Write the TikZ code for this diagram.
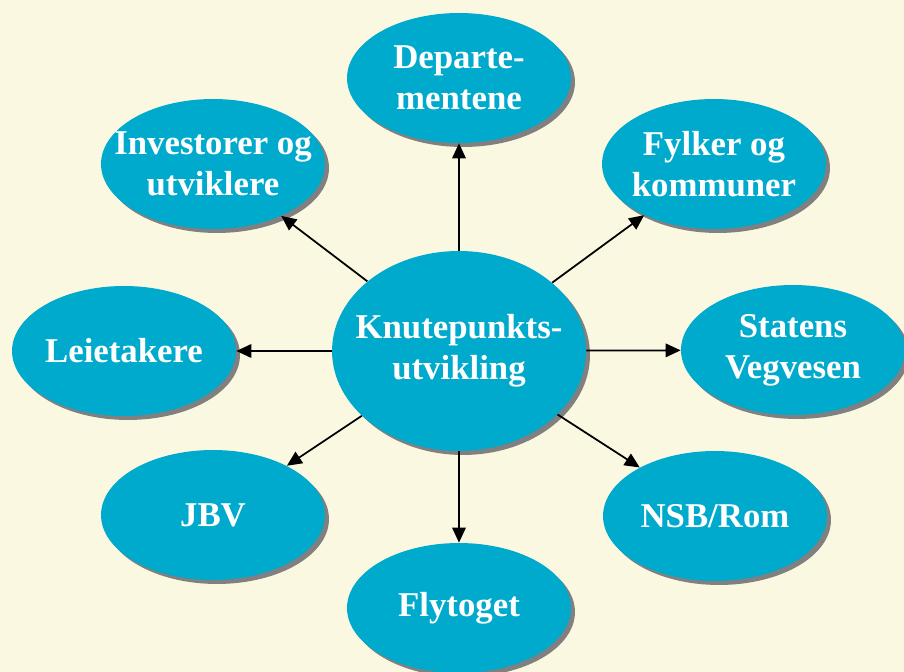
\documentclass[tikz,border=0pt]{standalone}
\usepackage{fontspec}
\setmainfont{Liberation Serif}
\usetikzlibrary{arrows.meta,shapes.geometric,shadows}

\definecolor{bubblecyan}{RGB}{0,170,204}
\definecolor{paper}{RGB}{251,248,226}
\definecolor{shadowgray}{RGB}{128,128,128}

\begin{document}
\begin{tikzpicture}[x=0.02cm, y=-0.02cm]
    % --- Dimensions ---
    \def\OuterW{4.48cm}   % width of the outer ellipses
    \def\OuterH{2.6cm}    % height of the outer ellipses
    \def\HubW{5.08cm}     % width of the centre ellipse
    \def\HubH{4.0cm}      % height of the centre ellipse

    % --- Styles ---
    \tikzset{
        bubble/.style={
            ellipse,
            fill=bubblecyan,
            draw=none,
            inner sep=0pt,
            minimum width=\OuterW,
            minimum height=\OuterH,
            drop shadow={shadow xshift=0.08cm, shadow yshift=-0.08cm,
                         fill=shadowgray, opacity=1}
        },
        hub bubble/.style={
            bubble,
            minimum width=\HubW,
            minimum height=\HubH
        },
        every label/.style={
            text=white,
            align=center,
            font={\fontsize{19.8}{23.3}\selectfont\bfseries}
        },
        link/.style={
            -{Triangle[length=0.3cm, width=0.27cm]},
            line width=1pt
        }
    }

    % =========================================================
    % 1. BACKGROUND
    % =========================================================
    \path[use as bounding box, fill=paper] (0,0) rectangle (904,672);

    % =========================================================
    % 2. ELLIPSES
    % =========================================================
    \node[hub bubble, label=center:{Knutepunkts-\\utvikling}] (hub) at (459,351) {};

    \node[bubble, label=center:{Departe-\\mentene}]          (dep) at (459,78)  {};
    \node[bubble, label=center:{Investorer og\\utviklere}]   (inv) at (213,164) {};
    \node[bubble, label=center:{Fylker og\\kommuner}]        (fyl) at (714,164) {};
    \node[bubble, label=center:{Leietakere}]                 (lei) at (124,351) {};
    \node[bubble, label=center:{Statens\\Vegvesen}]          (sta) at (793,350) {};
    \node[bubble, label=center:{JBV}]                        (jbv) at (213,515) {};
    \node[bubble, label=center:{NSB/Rom}]                    (nsb) at (715,516) {};
    \node[bubble, label=center:{Flytoget}]                   (fly) at (459,608) {};

    % =========================================================
    % 3. ARROWS
    % =========================================================
    \foreach \n in {dep,inv,fyl,lei,sta,jbv,nsb,fly}
        \draw[link] (hub) -- (\n);

\end{tikzpicture}
\end{document}
